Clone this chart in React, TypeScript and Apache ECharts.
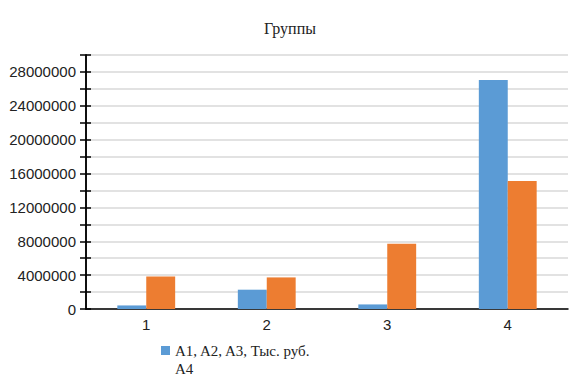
import React, { useEffect, useRef } from "react";
import * as echarts from "echarts";

const categories = ["1", "2", "3", "4"];
const seriesNames = ["A1, A2, A3, Тыс. руб.", "A4"];
const seriesA = [420000, 2280000, 540000, 27050000];
const seriesB = [3850000, 3730000, 7710000, 15120000];
const yMin = 0;
const yMax = 30000000;
const yStep = 2000000;
const labelStep = 4000000;

export default function App() {
  const ref = useRef<HTMLDivElement>(null);
  useEffect(() => {
    if (!ref.current) return;
    const chart = echarts.init(ref.current, null, { renderer: "svg" });
    const sans = "Liberation Sans";
    const serif = "Liberation Serif";
    chart.setOption({
      animation: false,
      title: {
        text: "Группы",
        left: "center",
        top: 15,
        textStyle: { fontFamily: serif, fontSize: 16, fontWeight: "normal", color: "#222" },
      },
      legend: {
        data: [{ name: seriesNames[0], icon: "rect" }],
        left: 156,
        top: 338,
        itemWidth: 9,
        itemHeight: 9,
        itemGap: 6,
        textStyle: { fontFamily: serif, fontSize: 15, color: "#222" },
      },
      graphic: [
        {
          type: "text",
          left: 175,
          top: 361,
          style: { text: seriesNames[1], font: "15px 'Liberation Serif'", fill: "#222" },
        },
      ],
      grid: { left: 86, right: 12, top: 55, bottom: 71 },
      xAxis: {
        type: "category",
        data: categories,
        axisLine: { lineStyle: { color: "#000", width: 1.5 } },
        axisTick: { show: false },
        axisLabel: { fontFamily: sans, fontSize: 15, color: "#222", margin: 8 },
      },
      yAxis: [
        {
          type: "value",
          min: yMin,
          max: yMax,
          interval: yStep,
          axisLine: { show: true, lineStyle: { color: "#000", width: 1.5 } },
          axisTick: { show: true, length: 6, lineStyle: { color: "#000", width: 1.5 } },
          axisLabel: {
            fontFamily: sans,
            fontSize: 15,
            color: "#222",
            margin: 10,
            formatter: (v: number) => (v % labelStep === 0 && v < yMax ? String(v) : ""),
          },
          splitLine: { lineStyle: { color: "#d9d9d9", width: 1.5 } },
        },
        {
          type: "value",
          position: "left",
          min: yMin,
          max: yMax,
          interval: yStep,
          axisLine: { show: true, lineStyle: { color: "#000", width: 1.5 } },
          axisTick: { show: true, inside: true, length: 5, lineStyle: { color: "#000", width: 1.5 } },
          axisLabel: { show: false },
          splitLine: { show: false },
        },
      ],
      series: [
        {
          name: seriesNames[0],
          type: "bar",
          data: seriesA,
          itemStyle: { color: "#5B9BD5" },
          barGap: "0%",
          barCategoryGap: "52%",
        },
        {
          name: seriesNames[1],
          type: "bar",
          data: seriesB,
          itemStyle: { color: "#ED7D31" },
          barGap: "0%",
          barCategoryGap: "52%",
        },
      ],
    });
    return () => chart.dispose();
  }, []);
  return <div ref={ref} style={{ width: 580, height: 380, position: "absolute", left: 0, top: 0 }} />;
}
